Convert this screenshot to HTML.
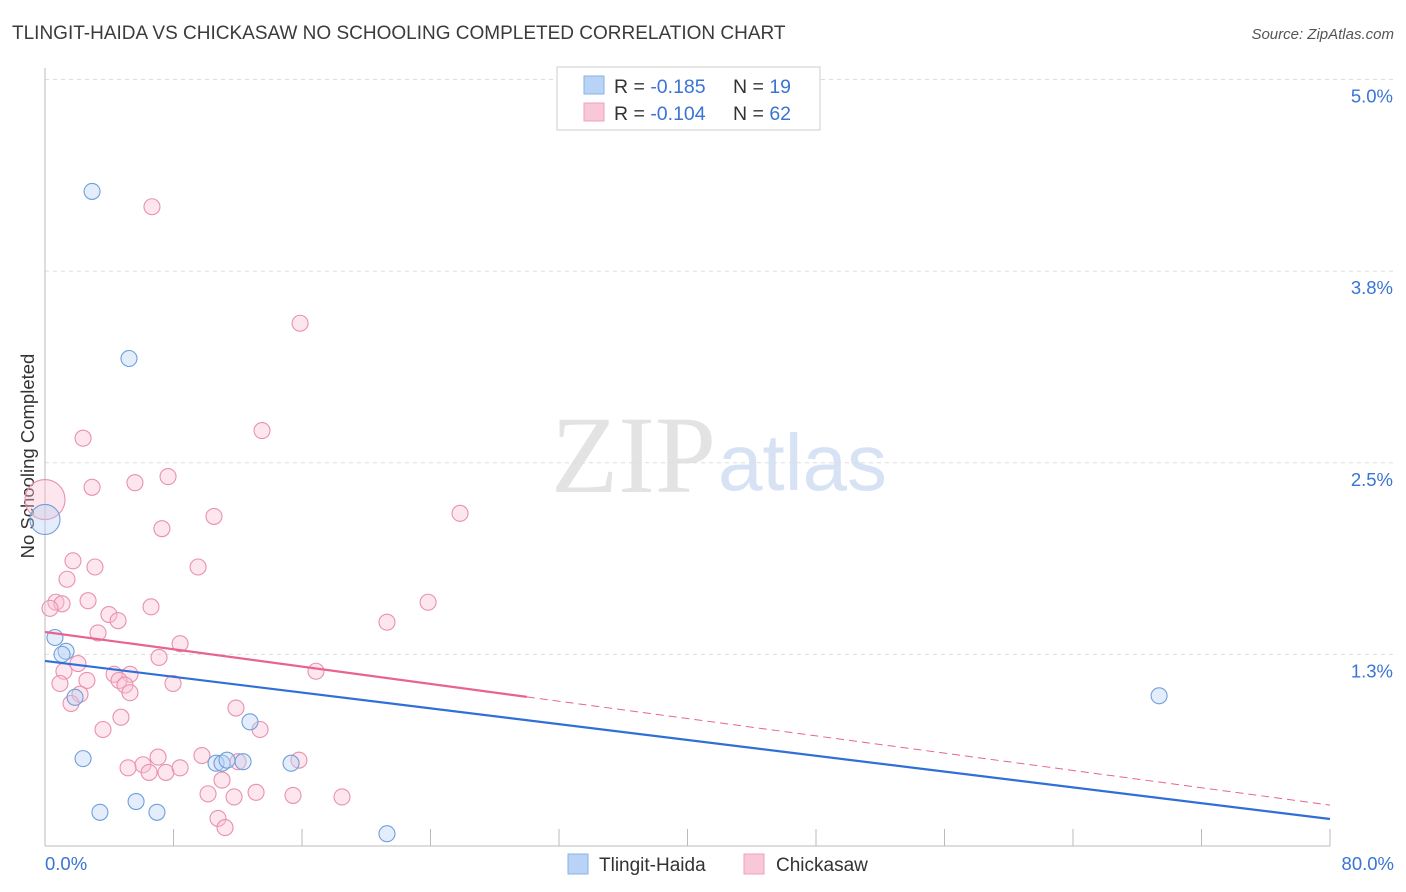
<!DOCTYPE html>
<html><head><meta charset="utf-8"><style>
body{margin:0;background:#fff;font-family:"Liberation Sans",sans-serif;}
#c{position:relative;width:1406px;height:892px;overflow:hidden;}
</style></head><body>
<div id="c">
<svg id="s" width="1406" height="892" xmlns="http://www.w3.org/2000/svg">
<text x="12" y="39" font-size="19" fill="#3b3b3b">TLINGIT-HAIDA VS CHICKASAW NO SCHOOLING COMPLETED CORRELATION CHART</text>
<text x="1394" y="39" font-size="15" fill="#555" font-style="italic" text-anchor="end">Source: ZipAtlas.com</text>
<text x="34" y="456" font-size="18.5" fill="#333" text-anchor="middle" transform="rotate(-90 34 456)">No Schooling Completed</text>
<text x="716" y="492" font-size="110" fill="#e3e3e3" text-anchor="end" font-family="Liberation Serif">ZIP</text>
<text x="718" y="490" font-size="80" fill="#d7e3f5">atlas</text>
<g id="grid"></g><g id="marks"></g>
<g>
<rect x="557" y="67" width="263" height="63" fill="#fff" stroke="#ccc"/>
<rect x="584" y="76" width="20" height="18" fill="#b8d3f5" stroke="#8ab0e0"/>
<rect x="584" y="103" width="20" height="18" fill="#f9c8d8" stroke="#eea0bb"/>
<text x="614" y="93" font-size="19.5" fill="#333">R = <tspan fill="#3a74d4">-0.185</tspan></text>
<text x="733" y="93" font-size="19.5" fill="#333">N = <tspan fill="#3a74d4">19</tspan></text>
<text x="614" y="120" font-size="19.5" fill="#333">R = <tspan fill="#3a74d4">-0.104</tspan></text>
<text x="733" y="120" font-size="19.5" fill="#333">N = <tspan fill="#3a74d4">62</tspan></text>
</g>
<g>
<rect x="568" y="854" width="20" height="20" fill="#b8d3f5" stroke="#8ab0e0"/>
<text x="599" y="871" font-size="19" fill="#333">Tlingit-Haida</text>
<rect x="744" y="854" width="20" height="20" fill="#f9c8d8" stroke="#eea0bb"/>
<text x="776" y="871" font-size="19" fill="#333">Chickasaw</text>
</g>
</svg></div>
<script>
const yTicks=[1.25,2.5,3.75,5.0];
const yTickLabels=["1.3%","2.5%","3.8%","5.0%"];
const xTickLabels=["0.0%","80.0%"];
const blueX=[2.93,5.23,0,0.62,1.31,1.06,1.87,2.37,3.42,5.67,6.97,10.65,11.02,11.33,12.33,12.76,15.32,21.29,69.36];
const blueY=[4.27,3.18,2.13,1.36,1.27,1.25,0.97,0.57,0.22,0.29,0.22,0.54,0.54,0.56,0.55,0.81,0.54,0.08,0.98];
const pinkX=[6.66,15.88,2.37,13.51,7.66,5.60,2.93,10.52,25.84,7.28,0,1.74,3.11,9.53,1.37,0.68,1.06,0.31,2.68,6.60,23.85,3.98,4.55,21.29,3.30,8.41,2.05,7.10,1.18,16.87,0.93,2.61,4.30,5.29,4.61,4.98,7.97,2.18,1.62,5.29,11.89,4.73,3.61,13.39,7.04,6.10,5.17,6.48,7.53,8.41,9.77,12.02,15.81,11.02,10.15,11.77,13.14,15.44,18.49,10.77,11.21];
const pinkY=[4.17,3.41,2.66,2.71,2.41,2.37,2.34,2.15,2.17,2.07,2.26,1.86,1.82,1.82,1.74,1.59,1.58,1.55,1.60,1.56,1.59,1.51,1.47,1.46,1.39,1.32,1.19,1.23,1.14,1.14,1.06,1.08,1.12,1.12,1.08,1.05,1.06,0.99,0.93,1.00,0.90,0.84,0.76,0.76,0.58,0.53,0.51,0.48,0.48,0.51,0.59,0.55,0.56,0.43,0.34,0.32,0.35,0.33,0.32,0.18,0.12];
const blueTrend=[1.207,0.176];
const pinkTrend=[1.396,0.267];
const NS="http://www.w3.org/2000/svg";
const X=v=>45+v/80*1285, Y=v=>846-v*153.3;
function mk(t,a,p){const e=document.createElementNS(NS,t);for(const k in a)e.setAttribute(k,a[k]);p.appendChild(e);return e;}
const g=document.getElementById('grid'),m=document.getElementById('marks');
yTicks.forEach((t,i)=>{
 const l=mk('line',{x1:45,x2:1394,y1:Y(t),y2:Y(t),stroke:'#ddd','stroke-dasharray':'4,4'},g);
 
 
 const tx=mk('text',{x:1393,y:Y(t)+23,'font-size':18.5,fill:'#3a74d4','text-anchor':'end'},g);tx.textContent=yTickLabels[i];
 
 
});
const ax=mk('line',{x1:45,x2:45,y1:68,y2:846,stroke:'#bbb'},g);


const bx=mk('line',{x1:45,x2:1330,y1:846,y2:846,stroke:'#bbb'},g);


for(let i=0;i<=10;i++){const tk=mk('line',{x1:X(i*8),x2:X(i*8),y1:829,y2:846,stroke:'#bbb'},g);
 
 }
[[0,'start',45],[80,'end',1394]].forEach((d,i)=>{const t=mk('text',{x:d[2],y:870,'font-size':18.5,fill:'#3a74d4','text-anchor':d[1]},g);t.textContent=xTickLabels[i];
 
 });
function pts(xs,ys,fill,stroke,name){xs.forEach((x,i)=>{const r=x===0?(name==='pink'?20:15):8;
 const c=mk('circle',{cx:X(x),cy:Y(ys[i]),r:r,fill:fill,'fill-opacity':0.4,stroke:stroke,'stroke-width':1.1},m);
 
 });}
pts(pinkX,pinkY,'#f9c0d2','#e990b0','pink');
pts(blueX,blueY,'#b8d3f5','#6f9fdc','blue');
const bl=mk('line',{x1:X(0),y1:Y(blueTrend[0]),x2:X(80),y2:Y(blueTrend[1]),stroke:'#2f6fd6','stroke-width':2.2},m);


const py=x=>pinkTrend[0]+(pinkTrend[1]-pinkTrend[0])*x/80;
const pl=mk('line',{x1:X(0),y1:Y(py(0)),x2:X(30),y2:Y(py(30)),stroke:'#e8648f','stroke-width':2.2},m);


const pd=mk('line',{x1:X(30),y1:Y(py(30)),x2:X(80),y2:Y(py(80)),stroke:'#e8648f','stroke-width':1,'stroke-dasharray':'8,5'},m);


</script>
</body></html>
